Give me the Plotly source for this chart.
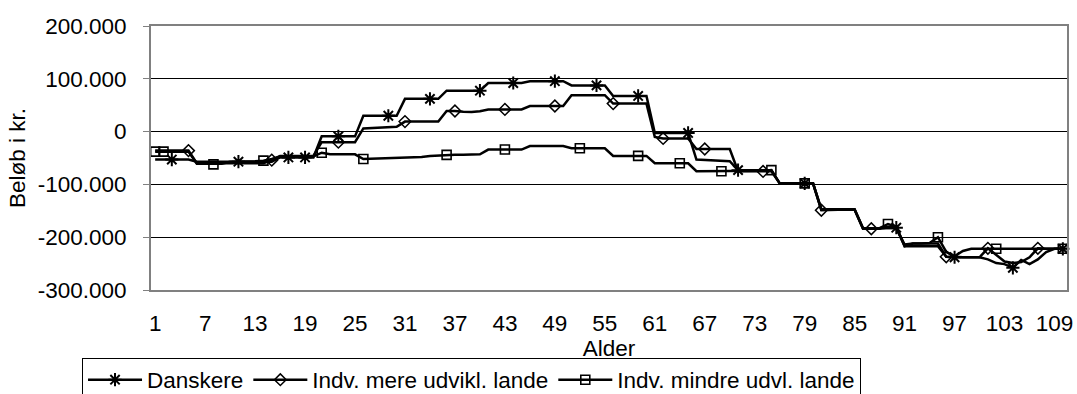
import plotly.graph_objects as go

# ---------------- data ----------------
AGES = list(range(1, 111))

X_LABEL_AGES = [1, 7, 13, 19, 25, 31, 37, 43, 49, 55, 61, 67, 73, 79, 85, 91, 97, 103, 109]
X_LABELS = [str(a) for a in X_LABEL_AGES]

Y_TICKS = [-300000, -200000, -100000, 0, 100000, 200000]
Y_LABELS = ["-300.000", "-200.000", "-100.000", "0", "100.000", "200.000"]

SERIES_NAMES = ["Danskere", "Indv. mere udvikl. lande", "Indv. mindre udvl. lande"]

DANSKERE = [
    -53000, -53000, -53000, -53000, -53000,
    -57000, -57000, -57000, -57000, -57000,
    -57000, -57000, -57000, -57000, -57000,
    -49000, -49000, -49000, -49000, -49000,
    -9000, -9000, -9000, -9000, -9000,
    30000, 30000, 30000, 30000, 30000,
    62000, 62000, 62000, 62000, 62000,
    77500, 77500, 77500, 77500, 77500,
    92000, 92000, 92000, 92000, 92000,
    95500, 95500, 95500, 95500, 95500,
    87500, 87500, 87500, 87500, 87500,
    67500, 67500, 67500, 67500, 67500,
    -2500, -2500, -2500, -2500, -2500,
    -53000, -54000, -55000, -55500, -56000,
    -73000, -73000, -73000, -73000, -73000,
    -98000, -98000, -98000, -98000, -98000,
    -147000, -147000, -147000, -147000, -147000,
    -183000, -183000, -183000, -180000, -182000,
    -217000, -217000, -217000, -217000, -217000,
    -237000, -238000, -238000, -238000, -238000,
    -242000, -249000, -251000, -258000, -243000,
    -251000, -242000, -228000, -222000, -222000,
]

MERE_UDVIKL = [
    -36000, -36000, -36000, -36000, -36000,
    -60000, -60000, -60000, -60000, -60000,
    -60000, -60000, -60000, -60000, -54000,
    -46000, -46000, -46000, -46000, -46000,
    -20000, -20000, -20000, -20000, -20000,
    6000, 6500, 7000, 8000, 9000,
    19000, 19000, 19000, 19000, 19000,
    39000, 39000, 37500, 37000, 38500,
    42000, 42000, 42000, 42000, 42000,
    48500, 48500, 48500, 48500, 48500,
    69000, 69000, 69000, 69000, 69000,
    53000, 53000, 53000, 53000, 53000,
    -10000, -13000, -13000, -13000, -13000,
    -33000, -33000, -33000, -33000, -33000,
    -75000, -75000, -75000, -75500, -75000,
    -98000, -98000, -98000, -98000, -98000,
    -149000, -148000, -148000, -148000, -148000,
    -184000, -184000, -184000, -182000, -183000,
    -214000, -212000, -212000, -212000, -212000,
    -237000, -238000, -238000, -238000, -238000,
    -221000, -234000, -246000, -249000, -247000,
    -238000, -221000, -222000, -222000, -222000,
]

MINDRE_UDVL = [
    -38000, -38000, -38000, -38000, -38000,
    -61000, -61000, -62000, -61000, -57000,
    -57000, -56000, -56000, -55000, -52000,
    -47000, -47000, -47000, -47000, -47000,
    -40000, -43000, -43000, -43000, -43000,
    -52000, -51500, -51000, -50500, -50000,
    -49500, -49000, -48000, -46000, -45000,
    -44000, -44000, -44000, -43500, -43000,
    -34000, -34000, -34000, -34000, -34000,
    -27500, -27500, -27500, -27500, -27500,
    -31500, -31500, -31500, -31500, -31500,
    -46000, -46000, -46000, -46000, -46000,
    -60000, -60000, -60000, -60000, -60000,
    -75000, -75000, -75000, -75000, -75000,
    -74000, -74000, -74000, -74000, -73000,
    -98000, -98000, -98000, -98000, -98000,
    -148000, -148000, -148000, -148000, -148000,
    -183000, -183000, -183000, -175000, -180000,
    -217000, -212000, -212000, -211000, -200000,
    -228000, -236000, -226000, -222000, -222000,
    -222000, -222000, -222000, -222000, -222000,
    -222000, -222000, -222000, -222000, -222000,
]

# ages at which a marker symbol is shown (style)
DANSKERE_MARKER_AGES = [3, 11, 17, 19, 23, 29, 34, 40, 44, 49, 54, 59, 65, 71, 79, 90, 97, 104, 110]
MERE_MARKER_AGES = [5, 15, 23, 31, 37, 43, 49, 56, 62, 67, 74, 81, 87, 96, 101, 107]
MINDRE_MARKER_AGES = [1, 2, 8, 14, 21, 26, 36, 43, 52, 59, 64, 69, 75, 79, 89, 95, 102, 110]

# ---------------- figure ----------------
FONT = "Liberation Sans, Arial, sans-serif"
FS = 22.5

fig = go.Figure()

specs = [
    (SERIES_NAMES[0], DANSKERE, DANSKERE_MARKER_AGES, "asterisk-open", 11, 2),
    (SERIES_NAMES[1], MERE_UDVIKL, MERE_MARKER_AGES, "diamond-open", 9, 1.5),
    (SERIES_NAMES[2], MINDRE_UDVL, MINDRE_MARKER_AGES, "square-open", 9, 1.6),
]
for name, vals, marks, sym, msize, mlw in specs:
    sel = [AGES.index(a) for a in marks]
    fig.add_trace(go.Scatter(
        x=AGES, y=vals, name=name, mode="lines+markers",
        line=dict(color="black", width=2.5),
        marker=dict(symbol=sym, size=msize, color="black",
                    line=dict(width=mlw, color="black")),
        selectedpoints=sel,
        selected=dict(marker=dict(opacity=1)),
        unselected=dict(marker=dict(opacity=0)),
        cliponaxis=False,
    ))

X2_TICKS = [0.5 + 5 * k for k in range(23)]

fig.update_layout(
    width=1077, height=394,
    margin=dict(l=151, r=10, t=26, b=104, autoexpand=False),
    paper_bgcolor="white", plot_bgcolor="white",
    font=dict(family=FONT, size=FS, color="black"),
    showlegend=True,
    legend=dict(
        orientation="h", x=-0.0753, xanchor="left", y=-0.256, yanchor="top",
        bordercolor="black", borderwidth=1, bgcolor="white",
        font=dict(family=FONT, size=FS, color="black"),
        itemwidth=54, traceorder="normal",
    ),
    xaxis=dict(
        range=[0.5, 110.5], tickmode="array", tickvals=X_LABEL_AGES, ticktext=X_LABELS,
        ticks="", ticklabelstandoff=12, showgrid=False, zeroline=False,
        showline=True, linecolor="#808080", linewidth=2, mirror=True,
        title=dict(text="Alder", standoff=0, font=dict(family=FONT, size=FS)),
        tickfont=dict(family=FONT, size=FS),
    ),
    xaxis2=dict(
        overlaying="x", anchor="free", position=0.6, side="bottom",
        range=[0.5, 110.5], tickmode="array", tickvals=X2_TICKS,
        ticks="outside", ticklen=6, tickcolor="black", tickwidth=1,
        showticklabels=False, showgrid=False, zeroline=False,
        showline=True, linecolor="black", linewidth=1,
    ),
    yaxis=dict(
        range=[-300000, 200000], tickmode="array", tickvals=Y_TICKS, ticktext=Y_LABELS,
        showgrid=True, gridcolor="black", gridwidth=1, zeroline=False,
        showline=True, linecolor="#808080", linewidth=2, mirror=True,
        ticks="outside", ticklen=6, tickcolor="#808080", tickwidth=1,
        ticklabelstandoff=12,
        title=dict(text="Beløb i kr.", standoff=6, font=dict(family=FONT, size=FS)),
        tickfont=dict(family=FONT, size=FS),
    ),
)

fig.write_html("out.html")
